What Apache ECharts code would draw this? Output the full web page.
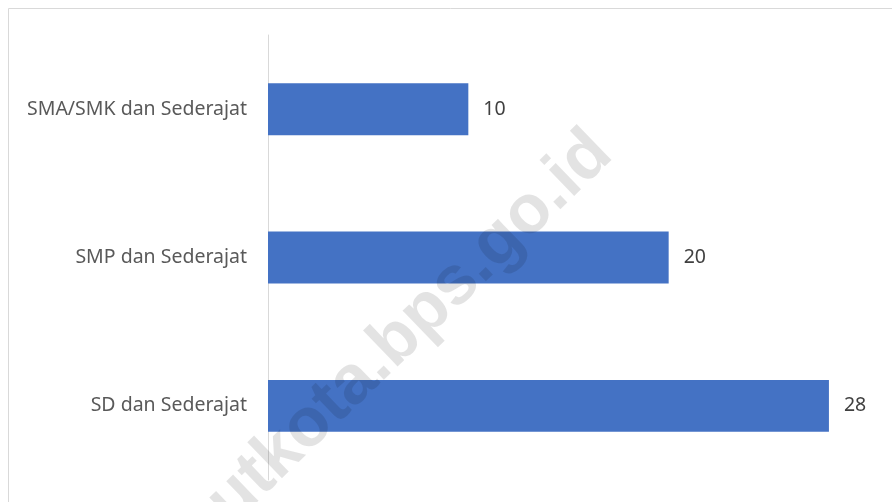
<!DOCTYPE html>
<html>
<head>
<meta charset="utf-8">
<script src="https://cdn.jsdelivr.net/npm/echarts@6/dist/echarts.min.js"></script>
<style>
  html, body { margin: 0; padding: 0; background: #fff; }
  #chart { width: 892px; height: 502px; }
</style>
</head>
<body>
<div id="chart"></div>
<script>
// data, bottom category first (ECharts y category axis starts at the bottom)
const categories = ['SD dan Sederajat', 'SMP dan Sederajat', 'SMA/SMK dan Sederajat']
const values = [28, 20, 10]
const watermark = 'utkota.bps.go.id'

const chart = echarts.init(document.getElementById('chart'))

const option = {
  animation: false,
  textStyle: { fontFamily: 'Noto Sans' },
  grid: { left: 268, right: 23, top: 35, bottom: 22 },
  xAxis: {
    type: 'value',
    min: 0,
    max: 30,
    show: false
  },
  yAxis: {
    type: 'category',
    data: categories,
    axisLine: { lineStyle: { color: '#d9d9d9', width: 1 } },
    axisTick: { show: false },
    axisLabel: { color: '#595959', fontSize: 19.5, margin: 21 }
  },
  series: [
    {
      type: 'bar',
      data: values,
      barCategoryGap: '65%',
      itemStyle: { color: '#4472C4' },
      label: {
        show: true,
        position: 'right',
        distance: 15,
        color: '#404040',
        fontSize: 19.5
      }
    }
  ],
  graphic: [
    {
      type: 'rect',
      shape: { x: 8.5, y: 8.5, width: 1000, height: 1000 },
      style: { fill: 'none', stroke: '#d9d9d9', lineWidth: 1 },
      z: 0
    },
    {
      // faint diagonal watermark over the bars
      type: 'text',
      x: 410,
      y: 328,
      rotation: 44 * Math.PI / 180,
      style: {
        text: watermark,
        font: 'bold 69px "Liberation Sans"',
        fill: 'rgba(0,0,0,0.11)',
        textAlign: 'center',
        textVerticalAlign: 'middle'
      },
      z: 100
    }
  ]
}

chart.setOption(option)
</script>
</body>
</html>
